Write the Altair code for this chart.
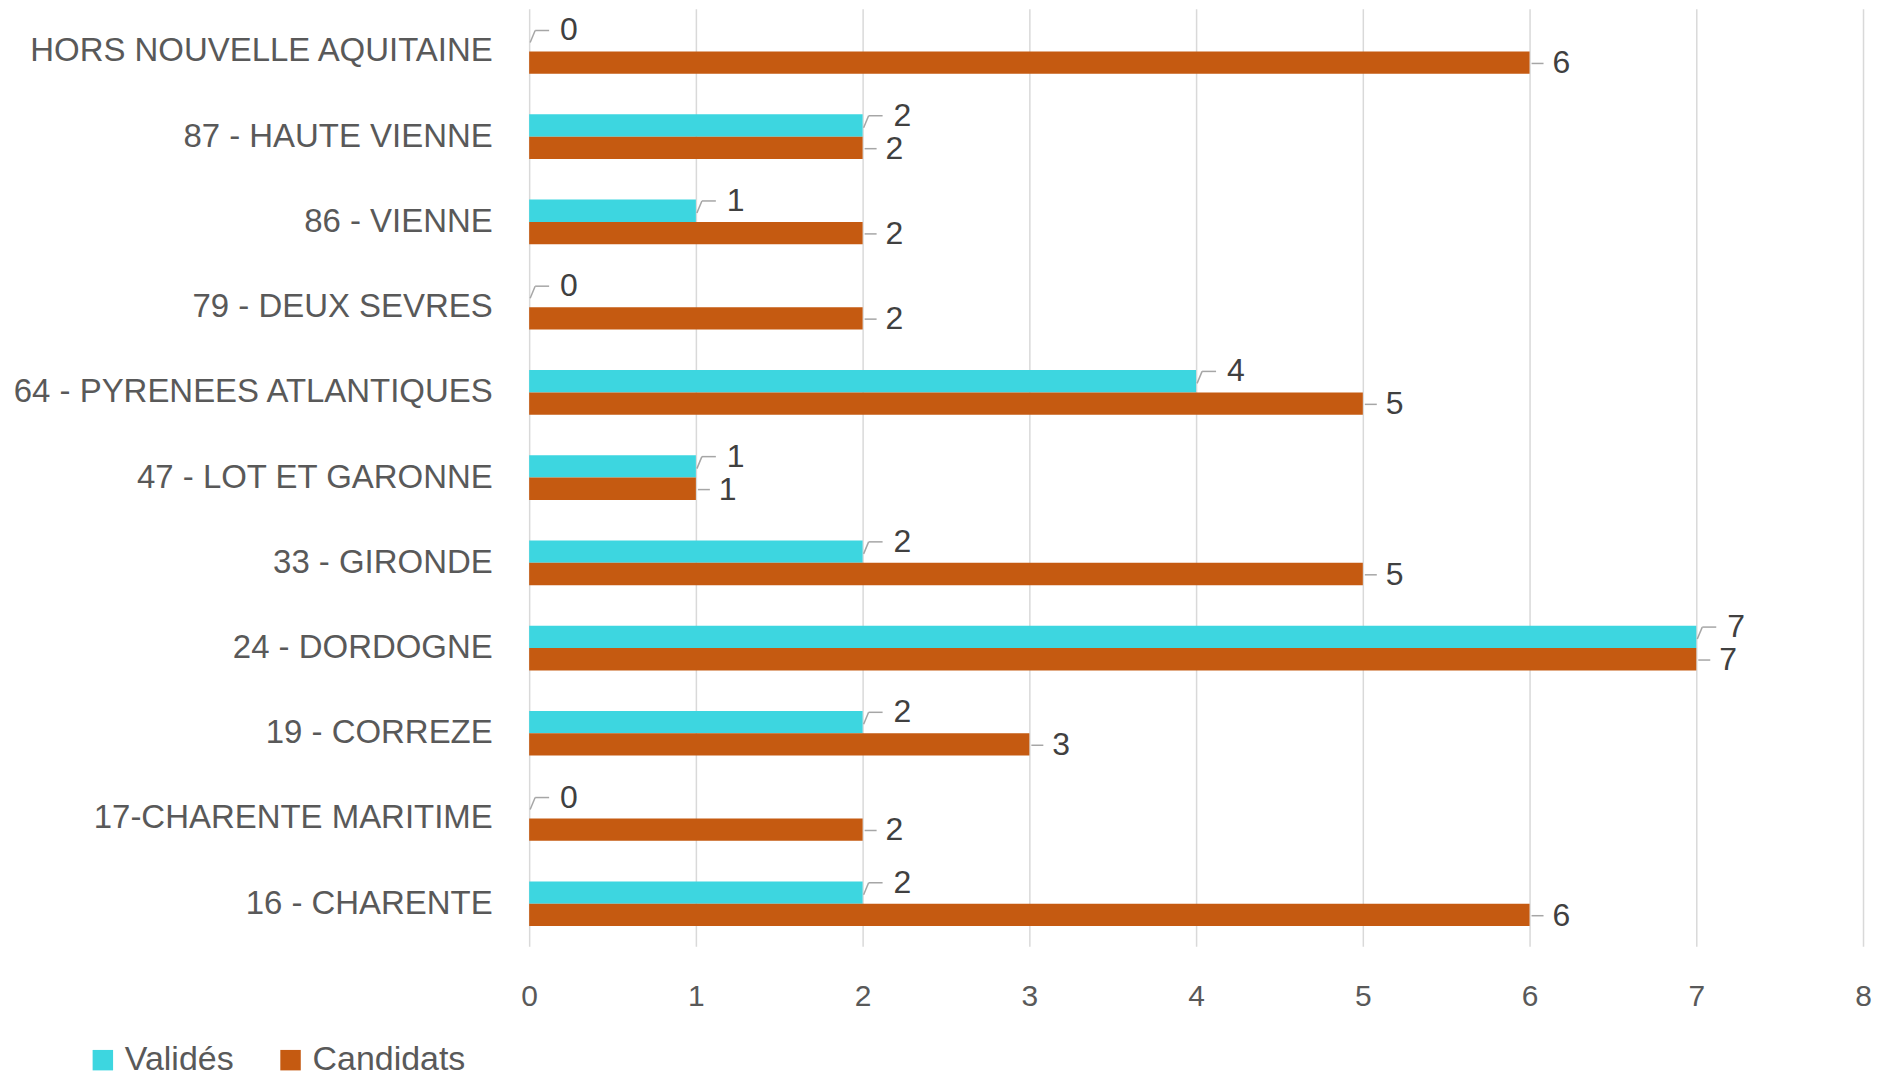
import altair as alt
import pandas as pd

categories = [
    "HORS NOUVELLE AQUITAINE",
    "87 - HAUTE VIENNE",
    "86 - VIENNE",
    "79 - DEUX SEVRES",
    "64 - PYRENEES ATLANTIQUES",
    "47 - LOT ET GARONNE",
    "33 - GIRONDE",
    "24 - DORDOGNE",
    "19 - CORREZE",
    "17-CHARENTE MARITIME",
    "16 - CHARENTE",
]
valides = [0, 2, 1, 0, 4, 1, 2, 7, 2, 0, 2]
candidats = [6, 2, 2, 2, 5, 1, 5, 7, 3, 2, 6]
series_names = ["Validés", "Candidats"]
series_colors = ["#3DD6E0", "#C55A11"]
x_ticks = [0, 1, 2, 3, 4, 5, 6, 7, 8]

rows = []
for c, v, k in zip(categories, valides, candidats):
    rows.append({"cat": c, "serie": series_names[0], "val": v})
    rows.append({"cat": c, "serie": series_names[1], "val": k})
df = pd.DataFrame(rows)

FONT = "Liberation Sans"
LEADER = "#A6A6A6"

y_enc = alt.Y(
    "cat:N", sort=categories, title=None,
    scale=alt.Scale(paddingInner=0.476, paddingOuter=0.238),
    axis=alt.Axis(labelFontSize=33, labelColor="#595959", labelPadding=37,
                  ticks=False, domain=False, grid=False, labelFont=FONT, labelLimit=700),
)
x_enc = alt.X(
    "val:Q", title=None,
    scale=alt.Scale(domain=[0, 8], nice=False),
    axis=alt.Axis(values=x_ticks, grid=True, gridColor="#D9D9D9", gridWidth=1.5,
                  domain=False, ticks=False, labelFontSize=30, labelColor="#595959",
                  labelPadding=35, format="d", labelFont=FONT, labelFlush=False),
)

base = alt.Chart(df)

bars = base.mark_bar().encode(
    y=y_enc,
    x=x_enc,
    yOffset=alt.YOffset("serie:N", sort=series_names,
                        scale=alt.Scale(domain=series_names, paddingInner=0, paddingOuter=0)),
    color=alt.Color(
        "serie:N", sort=series_names,
        scale=alt.Scale(domain=series_names, range=series_colors),
        legend=alt.Legend(title=None, orient="none", legendX=-444, legendY=1036,
                          direction="horizontal", symbolType="square", symbolSize=420,
                          symbolStrokeWidth=0, labelFontSize=34, labelColor="#595959",
                          labelOffset=5, columnPadding=40, labelFont=FONT),
    ),
)

val_base = base.transform_filter(alt.datum.serie == series_names[0])
cand_base = base.transform_filter(alt.datum.serie == series_names[1])

lead_v_diag = val_base.mark_rule(color=LEADER, strokeWidth=1.5, xOffset=1, x2Offset=6,
                                 yOffset=-9, y2Offset=-21).encode(
    y=y_enc, y2=alt.Y2("cat"), x=x_enc, x2=alt.X2("val"))
lead_v_h = val_base.mark_rule(color=LEADER, strokeWidth=1.5, xOffset=6, x2Offset=20,
                              yOffset=-21).encode(
    y=y_enc, x=x_enc, x2=alt.X2("val"))
lead_c_h = cand_base.mark_rule(color=LEADER, strokeWidth=1.5, xOffset=2, x2Offset=14,
                               yOffset=12).encode(
    y=y_enc, x=x_enc, x2=alt.X2("val"))

txt_v = val_base.mark_text(align="left", baseline="middle", dx=31, dy=-21,
                           fontSize=32, color="#404040", font=FONT).encode(
    y=y_enc, x=x_enc, text=alt.Text("val:Q"))
txt_c = cand_base.mark_text(align="left", baseline="middle", dx=23, dy=12,
                            fontSize=32, color="#404040", font=FONT).encode(
    y=y_enc, x=x_enc, text=alt.Text("val:Q"))

chart = alt.layer(bars, lead_v_diag, lead_v_h, lead_c_h, txt_v, txt_c).properties(
    width=1336, height=939,
    autosize=alt.AutoSizeParams(type="none"),
    padding={"left": 522, "top": 0, "right": 10, "bottom": 129},
    view=alt.ViewBackground(stroke="transparent", strokeWidth=0),
).configure_view(strokeWidth=0, stroke="transparent").configure_axis(
    domain=False
).configure(font=FONT)

chart.save("out.html", embed_options={"renderer": "svg", "actions": False})
